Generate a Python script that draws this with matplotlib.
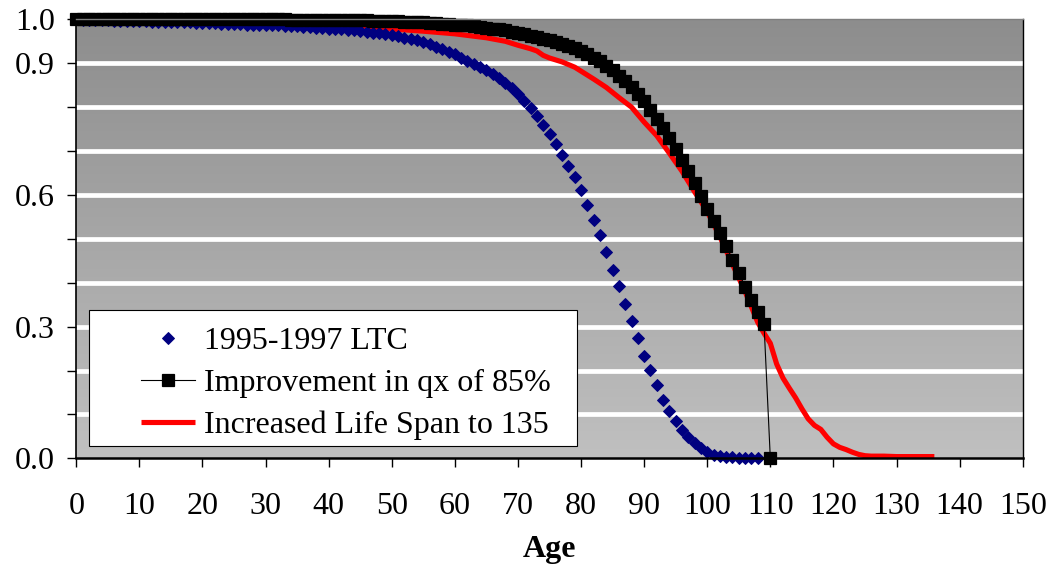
import matplotlib
matplotlib.use('Agg')
import matplotlib.pyplot as plt
import numpy as np
from matplotlib.colors import LinearSegmentedColormap
from matplotlib.patches import Rectangle

plt.rcParams['font.family'] = ['Liberation Serif', 'DejaVu Serif']

# ---- data ----
ltc_ages = list(range(0, 109))
ltc_surv = [
    1.000, 0.999, 0.999, 0.998, 0.998, 0.998, 0.997, 0.997, 0.997, 0.996,
    0.996, 0.996, 0.995, 0.995, 0.995, 0.994, 0.994, 0.993, 0.993, 0.992,
    0.992, 0.991, 0.991, 0.990, 0.990, 0.989, 0.989, 0.988, 0.988, 0.987,
    0.987, 0.986, 0.986, 0.985, 0.985, 0.984, 0.983, 0.982, 0.981, 0.980,
    0.979, 0.978, 0.977, 0.976, 0.975, 0.974, 0.972, 0.970, 0.968, 0.966,
    0.964, 0.961, 0.958, 0.955, 0.952, 0.948, 0.943, 0.938, 0.932, 0.926,
    0.920, 0.913, 0.906, 0.899, 0.892, 0.884, 0.875, 0.866, 0.855, 0.843,
    0.830, 0.815, 0.798, 0.779, 0.759, 0.738, 0.716, 0.692, 0.667, 0.641,
    0.611, 0.578, 0.543, 0.508, 0.470, 0.430, 0.392, 0.352, 0.312, 0.275,
    0.234, 0.201, 0.167, 0.133, 0.108, 0.085, 0.065, 0.048, 0.034, 0.023,
    0.014, 0.008, 0.005, 0.003, 0.002, 0.001, 0.001, 0.000, 0.000,
]

imp_ages = list(range(0, 111))
imp_surv = [
    1.000, 1.000, 1.000, 1.000, 1.000, 1.000, 1.000, 1.000, 1.000, 1.000,
    1.000, 1.000, 1.000, 1.000, 1.000, 1.000, 1.000, 1.000, 1.000, 1.000,
    1.000, 1.000, 1.000, 1.000, 1.000, 1.000, 1.000, 1.000, 1.000, 1.000,
    1.000, 1.000, 1.000, 1.000, 0.999, 0.999, 0.999, 0.999, 0.999, 0.999,
    0.999, 0.999, 0.998, 0.998, 0.998, 0.998, 0.998, 0.997, 0.997, 0.997,
    0.996, 0.996, 0.995, 0.994, 0.994, 0.993, 0.992, 0.991, 0.990, 0.989,
    0.988, 0.987, 0.986, 0.985, 0.983, 0.981, 0.979, 0.977, 0.975, 0.972,
    0.969, 0.966, 0.963, 0.960, 0.956, 0.952, 0.948, 0.944, 0.939, 0.934,
    0.928, 0.921, 0.913, 0.904, 0.894, 0.884, 0.872, 0.860, 0.846, 0.831,
    0.813, 0.794, 0.773, 0.752, 0.729, 0.705, 0.680, 0.654, 0.627, 0.598,
    0.567, 0.541, 0.513, 0.484, 0.452, 0.423, 0.391, 0.361, 0.334, 0.306,
    0.000,
]

span_ages = [0, 10, 20, 30, 40, 45, 50, 55, 60, 65, 68, 70, 72, 73, 74, 75,
             77, 79, 80, 82, 84, 86, 88, 90, 92, 94, 96, 98, 100, 102, 104,
             106, 108, 109, 110, 111, 112, 113, 114, 115, 116, 117, 118, 119,
             120, 121, 122, 123, 124, 125, 126, 128, 130, 133, 136]
span_surv = [1.000, 0.999, 0.997, 0.994, 0.989, 0.985, 0.978, 0.973, 0.967,
             0.958, 0.950, 0.941, 0.933, 0.928, 0.918, 0.912, 0.903, 0.891,
             0.882, 0.864, 0.845, 0.822, 0.800, 0.766, 0.735, 0.695, 0.654,
             0.607, 0.562, 0.505, 0.442, 0.380, 0.310, 0.285, 0.262, 0.215,
             0.183, 0.160, 0.138, 0.113, 0.090, 0.075, 0.066, 0.048, 0.033,
             0.025, 0.020, 0.014, 0.009, 0.006, 0.005, 0.005, 0.004, 0.004,
             0.004]

labels = ['1995-1997 LTC', 'Improvement in qx of 85%', 'Increased Life Span to 135']
x_ticks = [0, 10, 20, 30, 40, 50, 60, 70, 80, 90, 100, 110, 120, 130, 140, 150]
y_major = [0.0, 0.3, 0.6, 0.9, 1.0]
y_major_labels = ['0.0', '0.3', '0.6', '0.9', '1.0']
y_minor = [0.1, 0.2, 0.4, 0.5, 0.7, 0.8]
grid_levels = [0.1, 0.2, 0.3, 0.4, 0.5, 0.6, 0.7, 0.8, 0.9]

FS = 23

fig = plt.figure(figsize=(10.54, 5.69), dpi=100)
ax = fig.add_axes([0.0724, 0.1945, 0.8979, 0.7715])

# gradient background
grad = np.linspace(0, 1, 256).reshape(-1, 1)
cmap = LinearSegmentedColormap.from_list('bg', ['#c0c0c0', '#8d8d8d'])
ax.imshow(grad, extent=[0, 150, 0, 1], origin='lower', aspect='auto',
          cmap=cmap, zorder=0, interpolation='bilinear')

for g in grid_levels:
    ax.axhline(g, color='white', lw=3.4, zorder=1)

h_span, = ax.plot(span_ages, span_surv, color='#ff0000', lw=3.7, zorder=2,
                  solid_capstyle='butt', solid_joinstyle='round')
h_ltc, = ax.plot(ltc_ages, ltc_surv, ls='none', marker='D', ms=6.1, mew=0.7,
                 color='#000080', zorder=3, clip_on=False)
h_imp, = ax.plot(imp_ages, imp_surv, color='black', lw=0.8, marker='s',
                 ms=8.6, mew=0.9, mfc='black', mec='black', zorder=4,
                 clip_on=False)

ax.set_xlim(0, 150)
ax.set_ylim(0, 1)
ax.set_xticks(x_ticks)
ax.set_xticklabels([str(t) for t in x_ticks])
ax.set_yticks(y_major)
ax.set_yticklabels(y_major_labels)
ax.set_yticks(y_minor, minor=True)
ax.tick_params(axis='both', which='both', direction='out', length=6.5,
               width=1.0, color='black', labelsize=FS, labelcolor='black')
ax.tick_params(axis='x', pad=18)
ax.tick_params(axis='y', pad=9)

ax.spines['left'].set_linewidth(1.2)
ax.spines['left'].set_color('black')
ax.spines['bottom'].set_linewidth(1.8)
ax.spines['bottom'].set_color('black')
ax.spines['right'].set_linewidth(1.0)
ax.spines['right'].set_color('black')
ax.spines['top'].set_linewidth(1.0)
ax.spines['top'].set_color('#7f7f7f')
for s in ax.spines.values():
    s.set_zorder(5)

ax.set_xlabel('Age', fontsize=FS, fontweight='bold', labelpad=10)

# legend frame
ax.add_patch(Rectangle((0.0134, 0.028), 0.5156, 0.3098, transform=ax.transAxes,
                       facecolor='white', edgecolor='black', lw=0.8, zorder=6,
                       clip_on=False))
leg = ax.legend([h_ltc, h_imp, h_span], labels, loc='upper left',
                bbox_to_anchor=(0.0684, 0.300), frameon=False, fontsize=FS,
                handlelength=1.7, handletextpad=0.28, labelspacing=0.4,
                borderpad=0, borderaxespad=0, numpoints=1)
leg.set_zorder(7)

fig.savefig('out.png', dpi=100)
